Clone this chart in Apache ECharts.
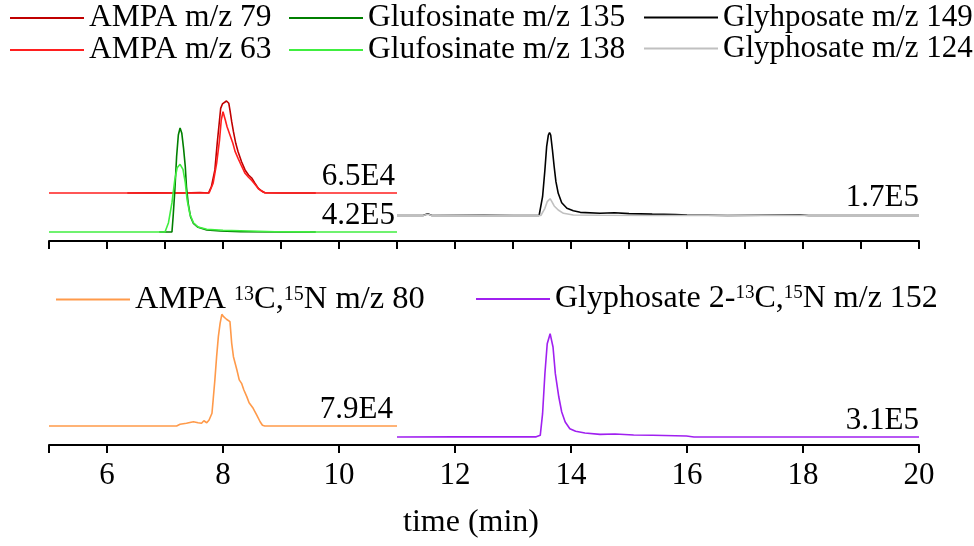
<!DOCTYPE html>
<html><head><meta charset="utf-8">
<script src="https://cdn.jsdelivr.net/npm/echarts@6/dist/echarts.min.js"></script>
<style>html,body{margin:0;padding:0;background:#fff}#c{width:974px;height:546px}</style>
</head><body><div id="c"></div>
<script>
// ---- data: [time (min), intensity (counts)] ----
const ampa79 = [[6.35,0],[6.8,200],[7.3,0],[7.6,300],[7.75,0],[7.80,4500],[7.86,16300],[7.90,35100],[7.94,51600],[7.96,59800],[7.99,62900],[8.02,63800],[8.06,65000],[8.10,63400],[8.12,58600],[8.15,50400],[8.18,43300],[8.22,35100],[8.26,29200],[8.32,22100],[8.38,16300],[8.44,12700],[8.50,10400],[8.55,6900],[8.61,3300],[8.67,1400],[8.72,200],[9.0,0],[9.6,0]];
const ampa63 = [[5,0],[6,0],[7,0],[7.5,0],[7.76,0],[7.83,6900],[7.89,21000],[7.94,37400],[7.97,51600],[8.00,57400],[8.02,56300],[8.04,51600],[8.07,46800],[8.12,41000],[8.17,35100],[8.21,29200],[8.26,24500],[8.32,19100],[8.38,13900],[8.44,11100],[8.50,8700],[8.55,6100],[8.61,3000],[8.68,900],[8.74,0],[9.5,0],[10,0],[11,0]];
const gluf135 = [[6.9,0],[7.0,0],[7.12,0],[7.14,61800],[7.17,169600],[7.20,304000],[7.23,391700],[7.26,420000],[7.29,398500],[7.32,338000],[7.35,263700],[7.37,182900],[7.40,115900],[7.44,61800],[7.49,35100],[7.57,19000],[7.72,8100],[7.95,4000],[8.3,1200],[9.0,400],[9.6,0]];
const gluf138 = [[5,0],[6,0],[6.9,0],[7.0,0],[7.06,37500],[7.12,118300],[7.17,212800],[7.21,259600],[7.26,273400],[7.31,253200],[7.35,199100],[7.38,132000],[7.43,71500],[7.49,37500],[7.57,20200],[7.72,10900],[8.0,7000],[8.3,5200],[8.9,1200],[9.5,500],[10,0],[11,0]];
const glyp149 = [[11,0],[11.45,0],[11.53,3400],[11.6,0],[12.5,500],[13.0,0],[13.45,0],[13.47,1000],[13.51,38500],[13.55,93200],[13.58,140900],[13.61,164900],[13.63,169600],[13.65,164900],[13.68,134100],[13.71,99900],[13.74,69200],[13.78,45500],[13.84,26200],[13.93,14700],[14.04,9800],[14.16,6500],[14.5,4500],[14.75,5500],[15.0,3800],[15.4,2800],[15.8,2200],[16.0,1000],[16.7,0],[17.95,1000],[18.1,0],[20,0]];
const glyp124 = [[11,0],[11.45,0],[11.53,2500],[11.6,0],[13.0,0],[13.48,0],[13.55,14700],[13.59,28300],[13.64,34400],[13.67,28300],[13.71,19500],[13.78,11300],[13.87,4500],[14.04,1000],[14.5,500],[15.5,0],[20,0]];
const ampaIS = [[5,0],[6.4,0],[7.2,0],[7.26,1200],[7.37,1900],[7.49,3000],[7.57,2300],[7.63,1900],[7.67,3700],[7.72,2300],[7.76,4200],[7.81,9000],[7.83,18300],[7.86,32500],[7.89,48900],[7.92,63000],[7.95,72400],[7.98,78800],[8.01,77100],[8.03,77600],[8.06,75300],[8.09,76000],[8.12,73600],[8.15,58300],[8.18,48900],[8.24,39500],[8.28,32500],[8.32,30100],[8.36,25400],[8.41,20700],[8.45,16400],[8.48,17100],[8.52,12500],[8.58,7800],[8.64,3000],[8.68,500],[8.72,0],[9.5,0],[11,0]];
const glypIS = [[11,0],[12,500],[13.0,300],[13.40,500],[13.47,5000],[13.51,69500],[13.55,188700],[13.59,278100],[13.64,308000],[13.69,268300],[13.73,188700],[13.79,119200],[13.84,74500],[13.90,44700],[13.98,24800],[14.08,16900],[14.24,11900],[14.5,7900],[14.76,8900],[15.08,6000],[15.41,5000],[15.99,3000],[16.12,0],[18,0],[20,0]];

const names = ['AMPA m/z 79','AMPA m/z 63','Glufosinate m/z 135','Glufosinate m/z 138','Glyhposate m/z 149','Glyphosate m/z 124','AMPA 13C,15N m/z 80','Glyphosate 2-13C,15N m/z 152'];
const scaleMax = [65000, 420000, 170000, 79000, 310000];
const scaleLabels = ['6.5E4','4.2E5','1.7E5','7.9E4','3.1E5'];
const tickValues = [5,6,8,10,12,14,16,18,20];
const tickLabels = [6,8,10,12,14,16,18,20];
const xTitle = 'time (min)';

const colors = ['#c00000','#ff1f1f','#007f00','#40ee40','#000000','#c0c0c0','#ff9a4a','#a020f0'];
const FF = '"Liberation Serif","Times New Roman",serif';

const chart = echarts.init(document.getElementById('c'), null, {renderer:'canvas'});

const grids = [
  {left:49, right:55, top:60, bottom:305},           // 0 top panel axis
  {left:49, width:348, top:101, bottom:353},         // 1 AMPA
  {left:49, width:348, top:128, bottom:314},         // 2 Glufosinate
  {left:397, right:55, top:132.5, bottom:330.5},     // 3 Glyphosate
  {left:49, width:348, top:314, bottom:120},         // 4 AMPA IS
  {left:397, right:55, top:333, bottom:109},         // 5 Glyphosate IS
  {left:49, right:55, top:300, bottom:101}           // 6 bottom axis
];
const hiddenX = (min,max,g)=>({gridIndex:g,type:'value',min,max,show:false});
const hiddenY = (max,g)=>({gridIndex:g,type:'value',min:0,max,show:false});
const axisLineStyle = {color:'#000',width:2};

const xAxes = [
  {gridIndex:0,type:'value',min:5,max:20,interval:1,
   axisLine:{show:true,onZero:false,lineStyle:axisLineStyle},
   axisTick:{show:true,inside:false,length:8,lineStyle:{color:'#000',width:2}},
   axisLabel:{show:false},splitLine:{show:false}},
  hiddenX(5,11,1), hiddenX(5,11,2), hiddenX(11,20,3), hiddenX(5,11,4), hiddenX(11,20,5),
  {gridIndex:6,type:'value',min:5,max:20,
   axisLine:{show:true,onZero:false,lineStyle:axisLineStyle},
   axisTick:{show:true,inside:false,length:8,customValues:tickValues,lineStyle:{color:'#000',width:2}},
   axisLabel:{show:true,customValues:tickLabels,margin:15,color:'#000',fontFamily:FF,fontSize:31},
   splitLine:{show:false},
   name:xTitle,nameLocation:'middle',nameGap:62,
   nameTextStyle:{color:'#000',fontFamily:FF,fontSize:32,padding:[0,26,0,0]}}
];
const yAxes = [
  {gridIndex:0,type:'value',show:false},
  hiddenY(scaleMax[0],1), hiddenY(scaleMax[1],2), hiddenY(scaleMax[2],3),
  hiddenY(scaleMax[3],4), hiddenY(scaleMax[4],5),
  {gridIndex:6,type:'value',show:false}
];

const dataSets = [ampa79, ampa63, gluf135, gluf138, glyp149, glyp124, ampaIS, glypIS];
const axisIdx = [1,1,2,2,3,3,4,5];
const series = dataSets.map((d,i)=>({
  name:names[i], type:'line', data:d, xAxisIndex:axisIdx[i], yAxisIndex:axisIdx[i],
  showSymbol:false, symbol:'none', clip:false, animation:false,
  lineStyle:{color:colors[i],width:1.6}, itemStyle:{color:colors[i]}
}));

const mkText = (fs)=>({color:'#000',fontFamily:FF,fontSize:fs,lineHeight:30,
  rich:{s:{fontFamily:FF,fontSize:Math.round(fs*0.6),lineHeight:14,verticalAlign:'top',color:'#000'}}});
const mkLegend = (left,top,data,fs)=>({
  left,top,orient:'vertical',data,icon:'rect',itemWidth:74,itemHeight:2,itemGap:0,padding:0,
  selectedMode:false,textStyle:mkText(fs),
  formatter:(n)=>n.replace(/(\d+)C,(\d+)N/,'{s|$1}C,{s|$2}N')
});
const legends = [
  mkLegend(10,2,[names[0],names[1]],31.5),
  mkLegend(289,2,[names[2],names[3]],31.5),
  mkLegend(644,2,[names[4],names[5]],31),
  mkLegend(56,283,[names[6]],32.5),
  mkLegend(476,283,[names[7]],32)
];

const labelPos = [[395,177],[395,216],[919,198],[393,410],[919,421]];
const graphics = scaleLabels.map((t,i)=>({
  type:'text', x:labelPos[i][0], y:labelPos[i][1], silent:true,
  style:{text:t, fill:'#000', font:'31px '+FF, textAlign:'right', textVerticalAlign:'middle', align:'right', verticalAlign:'middle'}
}));

chart.setOption({
  animation:false,
  backgroundColor:'#fff',
  grid:grids, xAxis:xAxes, yAxis:yAxes, series, legend:legends, graphic:graphics
});
</script></body></html>
